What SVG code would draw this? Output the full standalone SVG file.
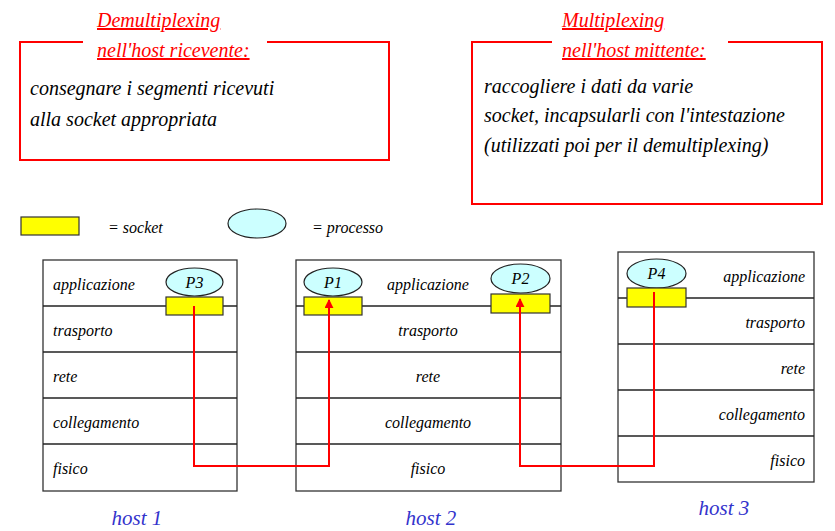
<svg xmlns="http://www.w3.org/2000/svg" width="835" height="531" viewBox="0 0 835 531" font-family="'Liberation Serif', 'DejaVu Serif', serif" font-style="italic">
<style>
text{font-family:'Liberation Serif','DejaVu Serif',serif;font-style:italic;fill:#000}
.title{fill:#ff0000;font-size:20px;text-decoration:underline}
.body{font-size:20px}
.lbl{font-size:16px}
.host{fill:#3333cc;font-size:21px}
.frame{fill:none;stroke:#ff0000;stroke-width:2}
.layer{fill:#fff;stroke:#333;stroke-width:1.3}
.sep{stroke:#222;stroke-width:1.3}
.proc{fill:#ccffff;stroke:#222;stroke-width:1.2}
.sock{fill:#ffff00;stroke:#333;stroke-width:1.2}
.link{fill:none;stroke:#ff0000;stroke-width:2}
</style>
<defs>
<marker id="arr" viewBox="0 0 10 10" refX="9" refY="5" markerWidth="4.5" markerHeight="4.5" orient="auto" markerUnits="strokeWidth">
<path d="M0,0 L10,5 L0,10 z" fill="#ff0000"/>
</marker>
</defs>

<g id="demux-note">
<path class="frame" d="M83,42 H20 V160 H389 V42 H267"/>
<text class="title" x="97" y="27">Demultiplexing</text>
<text class="title" x="97" y="57">nell'host ricevente:</text>
<text class="body" x="30" y="95">consegnare i segmenti ricevuti</text>
<text class="body" x="30" y="126">alla socket appropriata</text>
</g>

<g id="mux-note">
<path class="frame" d="M552,42 H472 V204 H822 V42 H728"/>
<text class="title" x="562" y="27">Multiplexing</text>
<text class="title" x="562" y="57">nell'host mittente:</text>
<text class="body" x="484" y="93">raccogliere i dati da varie</text>
<text class="body" x="484" y="122">socket, incapsularli con l'intestazione</text>
<text class="body" x="484" y="152">(utilizzati poi per il demultiplexing)</text>
</g>

<g id="legend">
<rect class="sock" x="21" y="217" width="58" height="18"/>
<text class="lbl" x="108" y="233">= socket</text>
<ellipse class="proc" cx="257" cy="223.5" rx="29" ry="14.5"/>
<text class="lbl" x="312" y="233">= processo</text>
</g>

<g id="host1">
<rect class="layer" x="43" y="260" width="194" height="231"/>
<line class="sep" x1="43" y1="306" x2="237" y2="306"/>
<line class="sep" x1="43" y1="352" x2="237" y2="352"/>
<line class="sep" x1="43" y1="398" x2="237" y2="398"/>
<line class="sep" x1="43" y1="444" x2="237" y2="444"/>
<text class="lbl" x="53" y="290">applicazione</text>
<text class="lbl" x="53" y="336">trasporto</text>
<text class="lbl" x="53" y="382">rete</text>
<text class="lbl" x="53" y="428">collegamento</text>
<text class="lbl" x="53" y="474">fisico</text>
<text class="host" x="137" y="525" text-anchor="middle">host 1</text>
</g>
<g id="P3">
<ellipse class="proc" cx="194.5" cy="282" rx="28.5" ry="14"/>
<text class="lbl" x="194.5" y="288" text-anchor="middle">P3</text>
<rect class="sock" x="166" y="297" width="57" height="18"/>
</g>

<g id="host2">
<rect class="layer" x="296" y="260" width="265" height="231"/>
<line class="sep" x1="296" y1="306" x2="561" y2="306"/>
<line class="sep" x1="296" y1="352" x2="561" y2="352"/>
<line class="sep" x1="296" y1="398" x2="561" y2="398"/>
<line class="sep" x1="296" y1="444" x2="561" y2="444"/>
<text class="lbl" x="428" y="290" text-anchor="middle">applicazione</text>
<text class="lbl" x="428" y="336" text-anchor="middle">trasporto</text>
<text class="lbl" x="428" y="382" text-anchor="middle">rete</text>
<text class="lbl" x="428" y="428" text-anchor="middle">collegamento</text>
<text class="lbl" x="428" y="474" text-anchor="middle">fisico</text>
<text class="host" x="431" y="525" text-anchor="middle">host 2</text>
</g>
<g id="P1">
<ellipse class="proc" cx="333" cy="282" rx="29" ry="14"/>
<text class="lbl" x="333" y="288" text-anchor="middle">P1</text>
<rect class="sock" x="304" y="297" width="58" height="18"/>
</g>
<g id="P2">
<ellipse class="proc" cx="520.5" cy="278.5" rx="29.5" ry="14.5"/>
<text class="lbl" x="520.5" y="284" text-anchor="middle">P2</text>
<rect class="sock" x="491" y="294" width="59" height="19"/>
</g>

<g id="host3">
<rect class="layer" x="618" y="252" width="196" height="230"/>
<line class="sep" x1="618" y1="298" x2="814" y2="298"/>
<line class="sep" x1="618" y1="344" x2="814" y2="344"/>
<line class="sep" x1="618" y1="390" x2="814" y2="390"/>
<line class="sep" x1="618" y1="436" x2="814" y2="436"/>
<text class="lbl" x="805" y="282" text-anchor="end">applicazione</text>
<text class="lbl" x="805" y="328" text-anchor="end">trasporto</text>
<text class="lbl" x="805" y="374" text-anchor="end">rete</text>
<text class="lbl" x="805" y="420" text-anchor="end">collegamento</text>
<text class="lbl" x="805" y="466" text-anchor="end">fisico</text>
<text class="host" x="724" y="515" text-anchor="middle">host 3</text>
</g>
<g id="P4">
<ellipse class="proc" cx="656.5" cy="273.5" rx="29.5" ry="14.5"/>
<text class="lbl" x="656.5" y="279" text-anchor="middle">P4</text>
<rect class="sock" x="627" y="288" width="59" height="19"/>
</g>

<g id="connectors">
<path class="link" d="M194,306 V466 H329 V300" marker-end="url(#arr)"/>
<path class="link" d="M654,292 V466 H520 V299" marker-end="url(#arr)"/>
</g>
</svg>
